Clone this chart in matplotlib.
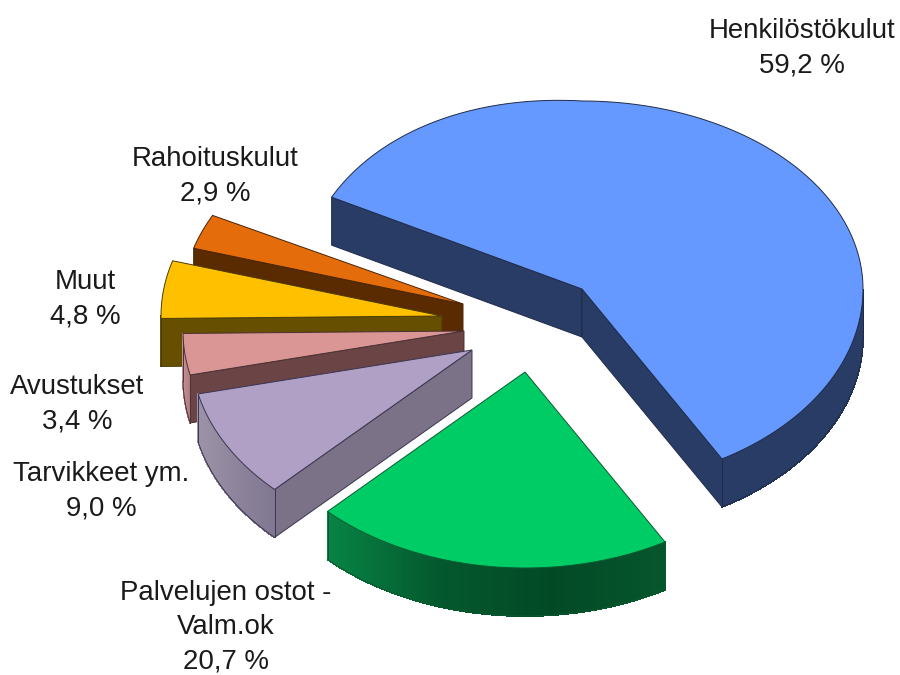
import numpy as np
import matplotlib
matplotlib.use('Agg')
import matplotlib.pyplot as plt
from matplotlib.collections import PolyCollection
from matplotlib.colors import LinearSegmentedColormap
from matplotlib.patches import Polygon

labels = ['Henkilöstökulut', 'Palvelujen ostot -\nValm.ok', 'Tarvikkeet ym.', 'Avustukset', 'Muut', 'Rahoituskulut']
values = [59.2, 20.7, 9.0, 3.4, 4.8, 2.9]
value_labels = ['59,2 %', '20,7 %', '9,0 %', '3,4 %', '4,8 %', '2,9 %']

# layout, all in image pixels
rx, ry_back, ry_front, depth = 281, 188, 196, 48
start_angle = 153
apex_x = [582, 525, 472, 464, 442, 463]
apex_y = [289, 372, 350, 331, 316, 304]
# the picture has some perspective, the back left of the rim bulges upward
back_bulge = [16, 0, 0, 0, 6, 8]
label_x = [802, 226, 101, 77, 85, 215]
label_y = [48.5, 627.5, 491, 404.5, 299, 176.5]
draw_order = [0, 5, 4, 3, 2, 1]

top_colors = ['#6699ff', '#00cc66', '#b0a0c6', '#d99694', '#ffc000', '#e46c0a']
side_colors = ['#293c66', '#044f28', '#7b7288', '#6b4546', '#665000', '#5a2a00']
edge_colors = ['#1f2b48', '#0b5a30', '#3a3550', '#4a3034', '#4a3c08', '#4a2406']
arc_colors = [['#293c66', '#293c66'],
              ['#078445', '#04582d', '#024a26', '#06562c'],
              ['#9c93a8', '#7f7690'],
              ['#c48f90', '#a67a7c'],
              ['#665000', '#665000'],
              ['#5a2a00', '#5a2a00']]

plt.rcParams['font.family'] = ['Liberation Sans']

fig = plt.figure(figsize=(9, 6.75), dpi=100)
ax = fig.add_axes([0, 0, 1, 1])
ax.set_xlim(0, 900)
ax.set_ylim(675, 0)
ax.axis('off')

sweeps = np.array(values) / sum(values) * 360
ends = start_angle - np.cumsum(sweeps)
starts = ends + sweeps

for n, i in enumerate(draw_order):
    z = 2 + n * 2
    t = np.radians(np.linspace(starts[i], ends[i], 200))
    s = np.sin(t)
    x = apex_x[i] + rx * np.cos(t)
    y = apex_y[i] - np.where(s < 0, ry_front, ry_back) * s
    y = y - back_bulge[i] * np.maximum(s, 0) * np.maximum(-np.cos(t), 0)
    top = np.column_stack([np.r_[apex_x[i], x], np.r_[apex_y[i], y]])
    edge = edge_colors[i]

    # a straight side shows only if it faces the viewer
    faces = []
    if x[0] < apex_x[i]:
        faces.append((x[0], y[0]))
    if x[-1] > apex_x[i]:
        faces.append((x[-1], y[-1]))
    for px, py in faces:
        face = [(px, py), (apex_x[i], apex_y[i]), (apex_x[i], apex_y[i] + depth), (px, py + depth)]
        ax.add_patch(Polygon(face, closed=True, facecolor=side_colors[i], edgecolor=edge, lw=0.7, zorder=z))

    # curved side in short strips so it can carry a gradient, front half only
    front = np.where(s < 0)[0]
    if len(front) > 1:
        fx, fy = x[front], y[front]
        cmap = LinearSegmentedColormap.from_list('arc', arc_colors[i])
        quads = [[(fx[a], fy[a]), (fx[a + 1], fy[a + 1]), (fx[a + 1], fy[a + 1] + depth), (fx[a], fy[a] + depth)]
                 for a in range(len(fx) - 1)]
        c = cmap((fx[:-1] - fx.min()) / max(fx.max() - fx.min(), 1))
        ax.add_collection(PolyCollection(quads, facecolors=c, edgecolors=c, linewidths=0.6, antialiaseds=False, zorder=z))
        ax.plot(fx, fy + depth, color=edge, lw=0.7, zorder=z)
        ax.plot([fx[0], fx[0]], [fy[0], fy[0] + depth], color=edge, lw=0.7, zorder=z)
        ax.plot([fx[-1], fx[-1]], [fy[-1], fy[-1] + depth], color=edge, lw=0.7, zorder=z)

    # top face hides whatever lies behind it
    ax.add_patch(Polygon(top, closed=True, facecolor=top_colors[i], edgecolor=edge, lw=0.7, zorder=z + 1))

for lab, val, lx, ly in zip(labels, value_labels, label_x, label_y):
    ax.text(lx, ly, lab + '\n' + val, ha='center', va='center', fontsize=19.9, color='#1a1a1a', linespacing=1.42, zorder=50)

fig.savefig('out.png', dpi=100)
